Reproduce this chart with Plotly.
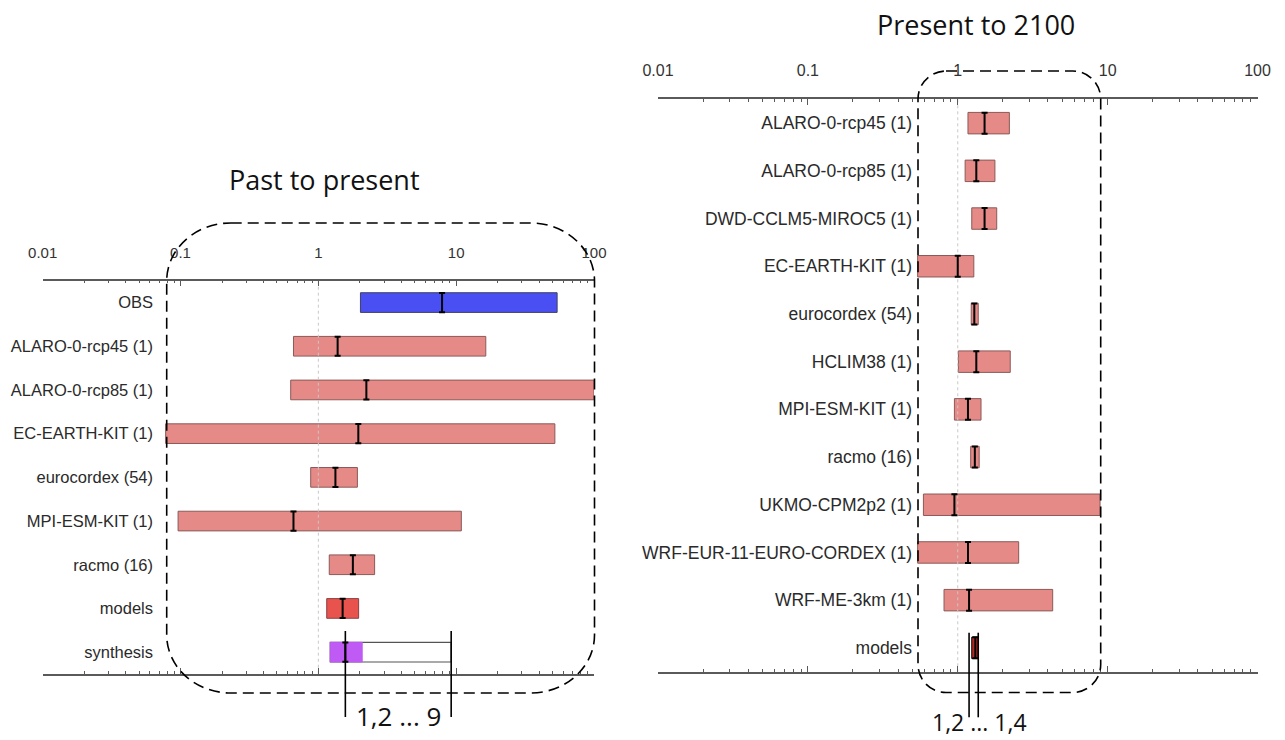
import math
import plotly.graph_objects as go

# ---------------- data ----------------
left_names = ["OBS", "ALARO-0-rcp45 (1)", "ALARO-0-rcp85 (1)", "EC-EARTH-KIT (1)",
              "eurocordex (54)", "MPI-ESM-KIT (1)", "racmo (16)", "models", "synthesis"]
left_lo = [2.02, 0.66, 0.63, 0.078, 0.88, 0.096, 1.2, 1.15, 1.22]
left_hi = [54, 16.4, 100, 52, 1.92, 10.9, 2.56, 1.96, 2.08]
left_med = [7.9, 1.38, 2.23, 1.95, 1.33, 0.66, 1.78, 1.50, 1.57]
synth_upper = 9.2
left_marks = [1.57, 9.2]
left_marks_text = "1,2 ... 9"

right_names = ["ALARO-0-rcp45 (1)", "ALARO-0-rcp85 (1)", "DWD-CCLM5-MIROC5 (1)", "EC-EARTH-KIT (1)",
               "eurocordex (54)", "HCLIM38 (1)", "MPI-ESM-KIT (1)", "racmo (16)", "UKMO-CPM2p2 (1)",
               "WRF-EUR-11-EURO-CORDEX (1)", "WRF-ME-3km (1)", "models"]
right_lo = [1.17, 1.12, 1.24, 0.54, 1.23, 1.01, 0.95, 1.22, 0.59, 0.54, 0.81, 1.24]
right_hi = [2.21, 1.77, 1.82, 1.28, 1.37, 2.24, 1.43, 1.39, 8.9, 2.55, 4.3, 1.37]
right_med = [1.51, 1.33, 1.51, 1.00, 1.29, 1.33, 1.17, 1.30, 0.95, 1.17, 1.19, 1.31]
right_marks = [1.19, 1.37]
right_marks_text = "1,2 ... 1,4"

major_ticks = [0.01, 0.1, 1, 10, 100]
major_text = ["0.01", "0.1", "1", "10", "100"]
minor_ticks = [m * d for d in [0.01, 0.1, 1, 10] for m in range(2, 10)]

titles = ["Past to present", "Present to 2100"]

# ---------------- styles ----------------
W, H = 1285, 740
SALMON = "#E68A87"
SALMON_LINE = "#8a5a58"
BLUE = "#4A4FF3"
RED = "#E8534E"
DARKRED = "#B52A25"
PURPLE = "#C05AF5"
AX = "#5a5a5a"
LABEL_FONT = "Liberation Sans, Arial, sans-serif"
TITLE_FONT = "Open Sans, sans-serif"


def px(x):
    return x / W


def py(y):
    return 1 - y / H


fig = go.Figure()


def add_panel(names, lo, hi, colors, lines, xa, ya):
    n = len(names)
    rows = list(range(n))
    fig.add_trace(go.Scatter(x=[1, 1], y=[-0.5, n - 0.5], mode="lines",
                             line=dict(color="#c8c8c8", width=1, dash="dot"),
                             xaxis=xa, yaxis=ya, hoverinfo="skip"))
    fig.add_trace(go.Bar(orientation="h", y=rows, base=lo,
                         x=[h - l for h, l in zip(hi, lo)], width=0.45,
                         marker=dict(color=colors, line=dict(color=lines, width=1)),
                         xaxis=xa, yaxis=ya, hoverinfo="skip"))
    return rows


# left panel
lcolors = [BLUE] + [SALMON] * 6 + [RED, PURPLE]
llines = ["#404060"] + [SALMON_LINE] * 6 + ["#8a4040", PURPLE]
fig.add_trace(go.Bar(orientation="h", y=[8], base=[left_lo[8]], x=[synth_upper - left_lo[8]],
                     width=0.45, marker=dict(color="white", line=dict(color="#555", width=1.2)),
                     xaxis="x", yaxis="y", hoverinfo="skip"))
lrows = add_panel(left_names, left_lo, left_hi, lcolors, llines, "x", "y")
fig.add_trace(go.Scatter(x=left_med, y=lrows, mode="markers", marker=dict(size=1, color="black"),
                         error_y=dict(type="constant", value=0.22, width=3, thickness=2, color="black"),
                         xaxis="x", yaxis="y", hoverinfo="skip"))

# right panel
rcolors = [SALMON] * 11 + [DARKRED]
rlines = [SALMON_LINE] * 11 + ["black"]
rrows = add_panel(right_names, right_lo, right_hi, rcolors, rlines, "x2", "y2")
fig.add_trace(go.Scatter(x=right_med, y=rrows, mode="markers", marker=dict(size=1, color="black"),
                         error_y=dict(type="constant", value=0.22, width=3, thickness=2, color="black"),
                         xaxis="x2", yaxis="y2", hoverinfo="skip"))


# ---------------- axes ----------------
def xaxis_cfg(dom, fsize, anchor):
    return dict(type="log", range=[-2, 2], domain=dom, side="top", anchor=anchor,
                showline=True, linecolor=AX, linewidth=1.5, mirror="allticks",
                ticks="inside", ticklen=6, tickwidth=1, tickcolor=AX,
                tickvals=major_ticks, ticktext=major_text,
                tickfont=dict(family=LABEL_FONT, size=fsize, color="#333"),
                ticklabelstandoff=15, automargin=False,
                minor=dict(tickvals=minor_ticks, ticks="inside", ticklen=3, tickcolor=AX, tickwidth=1),
                showgrid=False, zeroline=False, fixedrange=True)


def yaxis_cfg(dom, n, names, pos, fsize):
    return dict(domain=dom, range=[n - 0.5, -0.5], tickvals=list(range(n)), ticktext=names,
                anchor="free", position=pos, showline=False, showgrid=False, zeroline=False,
                ticks="", tickfont=dict(family=LABEL_FONT, size=fsize, color="#2a2a2a"),
                automargin=False, fixedrange=True)


fig.update_layout(
    width=W, height=H, margin=dict(l=0, r=0, t=0, b=0, pad=0, autoexpand=False),
    paper_bgcolor="white", plot_bgcolor="rgba(0,0,0,0)",
    showlegend=False, hovermode=False, barmode="overlay",
    xaxis=xaxis_cfg([px(42.7), px(594)], 15, "y"),
    yaxis=yaxis_cfg([py(674), py(280.7)], len(left_names), left_names, px(153), 16.5),
    xaxis2=xaxis_cfg([px(658), px(1257.5)], 16, "y2"),
    yaxis2=yaxis_cfg([py(671.7), py(99.3)], len(right_names), right_names, px(912), 17.5),
)


# ---------------- dashed rounded boxes ----------------
def rounded(x0, y0, x1, y1, rx, ry):
    k = 0.5523
    P = lambda x, y: f"{px(x):.5f},{py(y):.5f}"
    return (f"M {P(x0 + rx, y0)} L {P(x1 - rx, y0)} "
            f"C {P(x1 - rx + k * rx, y0)} {P(x1, y0 + ry - k * ry)} {P(x1, y0 + ry)} "
            f"L {P(x1, y1 - ry)} "
            f"C {P(x1, y1 - ry + k * ry)} {P(x1 - rx + k * rx, y1)} {P(x1 - rx, y1)} "
            f"L {P(x0 + rx, y1)} "
            f"C {P(x0 + rx - k * rx, y1)} {P(x0, y1 - ry + k * ry)} {P(x0, y1 - ry)} "
            f"L {P(x0, y0 + ry)} "
            f"C {P(x0, y0 + ry - k * ry)} {P(x0 + rx - k * rx, y0)} {P(x0 + rx, y0)} Z")


dash_line = dict(color="black", width=1.6, dash="11px,6px")
fig.add_shape(type="path", xref="paper", yref="paper", path=rounded(166.7, 223, 594.5, 693, 64, 58),
              line=dash_line)
fig.add_shape(type="path", xref="paper", yref="paper", path=rounded(918, 71, 1100.7, 692.5, 28, 28),
              line=dash_line)

# ---------------- range marks below ----------------
for v in left_marks:
    fig.add_shape(type="line", xref="x", yref="paper", x0=v, x1=v, y0=py(631), y1=py(717),
                  line=dict(color="black", width=1.6))
for v in right_marks:
    fig.add_shape(type="line", xref="x2", yref="paper", x0=v, x1=v, y0=py(632.7), y1=py(717.3),
                  line=dict(color="black", width=1.6))

gm_l = math.sqrt(left_marks[0] * left_marks[1])
gm_r = math.sqrt(right_marks[0] * right_marks[1])
fig.add_annotation(xref="x", yref="paper", x=math.log10(gm_l), y=py(716), text=left_marks_text,
                   showarrow=False, xanchor="center", yanchor="middle",
                   font=dict(family=TITLE_FONT, size=26, color="#111"), bgcolor="white")
fig.add_annotation(xref="x2", yref="paper", x=math.log10(gm_r), y=py(739), text=right_marks_text,
                   showarrow=False, xanchor="center", yanchor="bottom", xshift=6,
                   borderpad=0, font=dict(family=TITLE_FONT, size=23, color="#111"))

# ---------------- titles ----------------
fig.add_annotation(xref="paper", yref="paper", x=px(324), y=py(180), text=titles[0], showarrow=False,
                   xanchor="center", yanchor="middle", font=dict(family=TITLE_FONT, size=27, color="#111"))
fig.add_annotation(xref="paper", yref="paper", x=px(976), y=py(25), text=titles[1], showarrow=False,
                   xanchor="center", yanchor="middle", font=dict(family=TITLE_FONT, size=27, color="#111"))

fig.write_html("out.html", config={"displayModeBar": False},
               post_script="document.body.style.margin='0';document.body.style.overflow='hidden';")
